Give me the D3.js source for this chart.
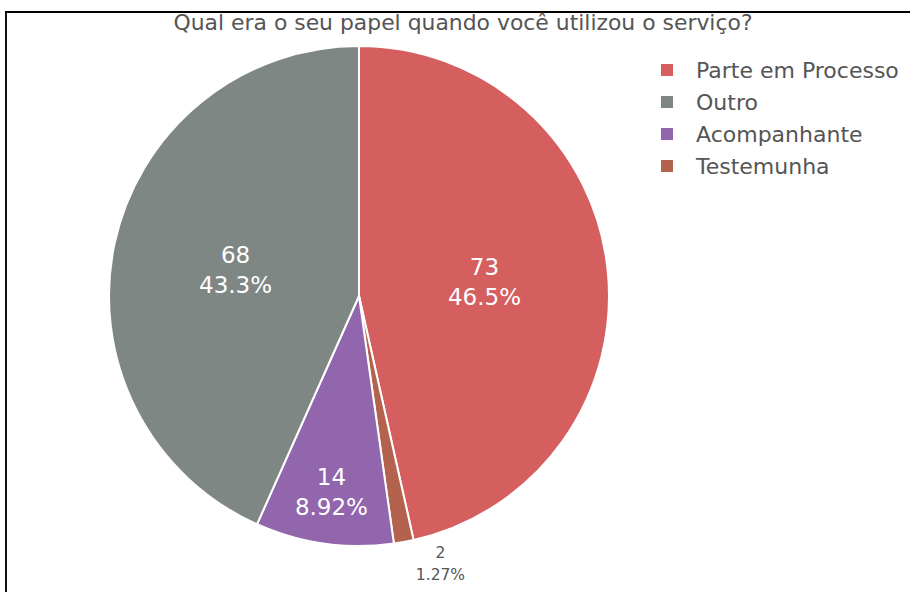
<!DOCTYPE html>
<html>
<head>
<meta charset="utf-8">
<script src="https://cdn.jsdelivr.net/npm/d3@7"></script>
<style>
  body { margin: 0; background: #fff; }
  svg { display: block; font-family: "DejaVu Sans", Verdana, sans-serif; }
</style>
</head>
<body>
<div id="chart"></div>
<script>
// slices in drawing order (clockwise from 12 o'clock)
var labels = ["Parte em Processo", "Testemunha", "Acompanhante", "Outro"];
var values = [73, 2, 14, 68];
var colors = ["#d55e5e", "#b3624e", "#9166ac", "#7f8785"];
// legend order
var legendOrder = ["Parte em Processo", "Outro", "Acompanhante", "Testemunha"];
var title = "Qual era o seu papel quando você utilizou o serviço?";

var width = 910, height = 592;
var cx = 359, cy = 296, radius = 250;

var svg = d3.select("#chart")
  .append("svg")
  .attr("width", width)
  .attr("height", height);

// frame lines (top and left) as in the screenshot
svg.append("line").attr("x1", 5).attr("x2", width).attr("y1", 12).attr("y2", 12)
  .attr("stroke", "#000").attr("stroke-width", 2);
svg.append("line").attr("x1", 6).attr("x2", 6).attr("y1", 12).attr("y2", height)
  .attr("stroke", "#111").attr("stroke-width", 2);

svg.append("text")
  .attr("x", 463).attr("y", 30)
  .attr("text-anchor", "middle")
  .attr("fill", "#555")
  .style("font-size", "21.9px")
  .text(title);

var color = d3.scaleOrdinal().domain(labels).range(colors);
var total = d3.sum(values);
var data = labels.map(function(l, i) { return { label: l, value: values[i] }; });

var pie = d3.pie().sort(null).value(function(d) { return d.value; });
var arcs = pie(data);
var arc = d3.arc().innerRadius(0).outerRadius(radius);

var g = svg.append("g").attr("transform", "translate(" + cx + "," + cy + ")");

g.selectAll("path")
  .data(arcs)
  .enter()
  .append("path")
  .attr("d", arc)
  .attr("fill", function(d) { return color(d.data.label); })
  .attr("stroke", "#fff")
  .attr("stroke-width", 2);

function pct(v) {
  var p = v / total * 100;
  return (p >= 10 ? p.toFixed(1) : p.toFixed(2)) + "%";
}

arcs.forEach(function(d) {
  var span = d.endAngle - d.startAngle;
  var mid = (d.startAngle + d.endAngle) / 2;
  if (span > 0.3) {
    // inside label, narrow slices pushed outward
    var r = span > 1.5 ? radius * 0.505 : radius * 0.79;
    var x = Math.sin(mid) * r, y = -Math.cos(mid) * r;
    var t = g.append("text")
      .attr("text-anchor", "middle")
      .attr("fill", "#fff")
      .style("font-size", "23px");
    t.append("tspan").attr("x", x).attr("y", y - 7).text(d.data.value);
    t.append("tspan").attr("x", x).attr("y", y + 23).text(pct(d.data.value));
  } else {
    // outside label below the edge
    var ex = Math.sin(mid) * (radius + 4), ey = -Math.cos(mid) * (radius + 4);
    var t2 = g.append("text")
      .attr("text-anchor", "middle")
      .attr("fill", "#555")
      .style("font-size", "15.5px");
    t2.append("tspan").attr("x", ex + 36).attr("y", ey + 12).text(d.data.value);
    t2.append("tspan").attr("x", ex + 36).attr("y", ey + 34).text(pct(d.data.value));
  }
});

// legend
var legend = svg.append("g").attr("transform", "translate(661,70)");
var rows = legend.selectAll("g")
  .data(legendOrder)
  .enter()
  .append("g")
  .attr("transform", function(d, i) { return "translate(0," + (i * 32) + ")"; });

rows.append("rect")
  .attr("x", 0).attr("y", -6)
  .attr("width", 12).attr("height", 12)
  .attr("fill", function(d) { return color(d); });

rows.append("text")
  .attr("x", 35).attr("y", 8)
  .attr("fill", "#555")
  .style("font-size", "22px")
  .text(function(d) { return d; });
</script>
</body>
</html>
